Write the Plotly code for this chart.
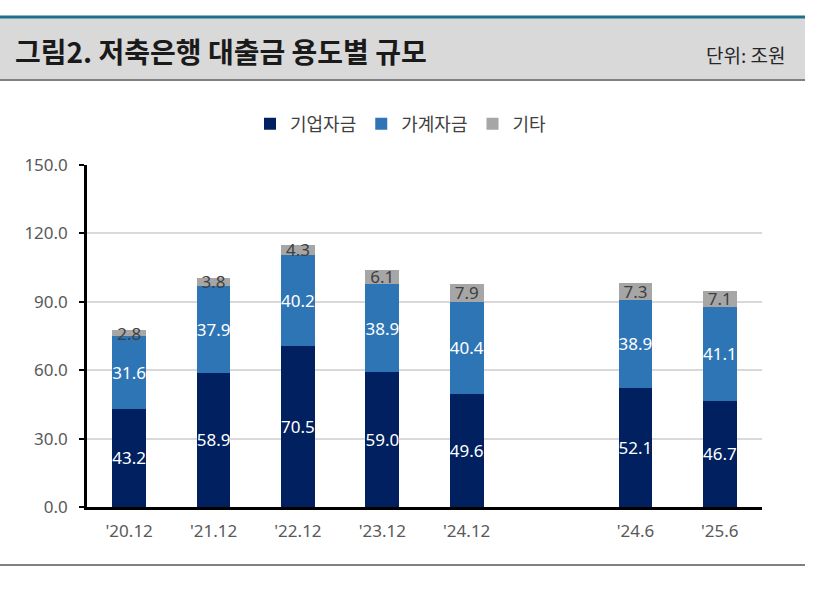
import plotly.graph_objects as go

# 기간 (빈 칸은 '24.12와 '24.6 사이의 간격)
periods = ["'20.12", "'21.12", "'22.12", "'23.12", "'24.12", "", "'24.6", "'25.6"]
corp = [43.2, 58.9, 70.5, 59.0, 49.6, None, 52.1, 46.7]
household = [31.6, 37.9, 40.2, 38.9, 40.4, None, 38.9, 41.1]
others = [2.8, 3.8, 4.3, 6.1, 7.9, None, 7.3, 7.1]
y_ticks = [0, 30, 60, 90, 120, 150]

W, H = 837, 596
L, R, T, B = 87, 762, 165, 507  # plot area in pixels


def px(x):
    return (x - L) / (R - L)


def py(y):
    return (B - y) / (B - T)


num_font = "Noto Sans, Noto Sans CJK KR, sans-serif"
kr_font = "Noto Sans CJK KR, sans-serif"

x = list(range(len(periods)))


def lbl(vals):
    return ["" if v is None else f"{v:.1f}" for v in vals]


fig = go.Figure()
series = [
    ("기업자금", corp, "#002060", "white"),
    ("가계자금", household, "#2E75B6", "white"),
    ("기타", others, "#A6A6A6", "#404040"),
]
for name, vals, color, tcolor in series:
    fig.add_trace(go.Bar(
        name=name, x=x, y=vals,
        marker=dict(color=color, line=dict(width=0)),
        width=0.4,
        text=lbl(vals), textposition="inside", insidetextanchor="middle",
        textangle=0, textfont=dict(color=tcolor, size=17, family=num_font),
        cliponaxis=False,
    ))

shapes = [
    # header band
    dict(type="rect", xref="paper", yref="paper", x0=px(0), x1=px(805),
         y0=py(80), y1=py(18), fillcolor="#D9D9D9", line=dict(width=0), layer="below"),
    dict(type="line", xref="paper", yref="paper", x0=px(0), x1=px(805),
         y0=py(17), y1=py(17), line=dict(color="#1F6E8C", width=3)),
    dict(type="line", xref="paper", yref="paper", x0=px(0), x1=px(805),
         y0=py(80), y1=py(80), line=dict(color="#808080", width=2)),
    # bottom rule
    dict(type="line", xref="paper", yref="paper", x0=px(0), x1=px(805),
         y0=py(565), y1=py(565), line=dict(color="#808080", width=2)),
]

annotations = [
    dict(text="<b>그림2. 저축은행 대출금 용도별 규모</b>", xref="paper", yref="paper",
         x=px(13), y=py(51), xanchor="left", yanchor="middle", showarrow=False,
         font=dict(size=28, color="#1A1A1A", family=kr_font)),
    dict(text="단위: 조원", xref="paper", yref="paper",
         x=px(787), y=py(54), xanchor="right", yanchor="middle", showarrow=False,
         font=dict(size=19, color="#262626", family=kr_font)),
]

fig.update_layout(
    width=W, height=H,
    margin=dict(l=L, r=W - R, t=T, b=H - B),
    paper_bgcolor="white", plot_bgcolor="white",
    barmode="stack", bargap=0.6,
    showlegend=True,
    legend=dict(orientation="h", x=px(401), xanchor="center", y=py(124), yanchor="middle",
                font=dict(size=18, color="#404040", family=kr_font),
                itemwidth=30, traceorder="normal"),
    uniformtext=dict(minsize=17, mode="show"),
    xaxis=dict(
        tickmode="array", tickvals=x, ticktext=periods,
        range=[-0.5, len(periods) - 0.5],
        showline=True, linecolor="black", linewidth=2.5,
        ticks="", showgrid=False, ticklabelstandoff=7,
        tickfont=dict(size=17, color="#595959", family=num_font),
    ),
    yaxis=dict(
        range=[0, 150], tickvals=y_ticks, tickformat=".1f",
        showline=True, linecolor="black", linewidth=2.5,
        ticks="outside", ticklen=5, tickwidth=2, tickcolor="black",
        showgrid=True, gridcolor="#D9D9D9", gridwidth=1.5,
        zeroline=False, ticklabelstandoff=8,
        tickfont=dict(size=17, color="#595959", family=num_font),
    ),
    shapes=shapes, annotations=annotations,
)

fig.write_html("out.html", config={"displayModeBar": False},
               post_script="document.body.style.margin='0';")
